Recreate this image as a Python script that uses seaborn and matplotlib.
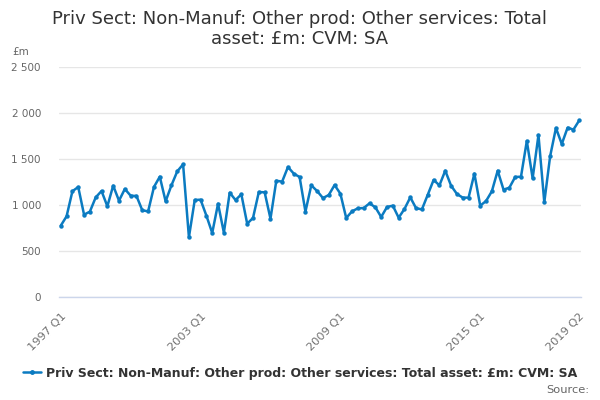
import matplotlib
matplotlib.use("Agg")
import matplotlib.pyplot as plt
import seaborn as sns
import pandas as pd
import numpy as np
from matplotlib.lines import Line2D

years = list(range(1997, 2020))
quarters = [f"{y} Q{q}" for y in years for q in range(1, 5)][:90]

values = [775, 877, 1149, 1196, 895, 928, 1083, 1152, 986, 1210,
          1047, 1174, 1101, 1098, 942, 931, 1196, 1308, 1040, 1214,
          1366, 1442, 650, 1054, 1058, 884, 696, 1014, 699, 1134,
          1054, 1116, 797, 859, 1141, 1138, 851, 1264, 1254, 1413,
          1341, 1304, 928, 1214, 1152, 1076, 1108, 1217, 1123, 859,
          931, 964, 967, 1018, 975, 870, 978, 993, 862, 957,
          1083, 964, 953, 1112, 1272, 1214, 1373, 1210, 1120, 1080,
          1080, 1341, 993, 1043, 1149, 1373, 1167, 1188, 1304, 1308,
          1696, 1290, 1761, 1029, 1529, 1837, 1663, 1841, 1819, 1920]

series_name = "Priv Sect: Non-Manuf: Other prod: Other services: Total asset: £m: CVM: SA"
title = "Priv Sect: Non-Manuf: Other prod: Other services: Total\nasset: £m: CVM: SA"
label_quarters = ["1997 Q1", "2003 Q1", "2009 Q1", "2015 Q1", "2019 Q2"]
y_ticks = [0, 500, 1000, 1500, 2000, 2500]
y_tick_labels = ["0", "500", "1 000", "1 500", "2 000", "2 500"]

df = pd.DataFrame({"pos": np.arange(len(values)), "quarter": quarters, "value": values})

sns.set_theme(style="white")
plt.rcParams["font.family"] = ["DejaVu Sans"]

fig = plt.figure(figsize=(6, 4), dpi=100)
ax = fig.add_axes([59 / 600, 103 / 400, 522 / 600, 230 / 400])

color = "#0b7bc1"
sns.lineplot(data=df, x="pos", y="value", ax=ax, color=color, linewidth=1.8,
             marker="o", markersize=3.2, markeredgewidth=0, legend=False)

ax.set_xlim(-0.3, len(values) - 1 + 0.3)
ax.set_ylim(0, 2500)
ax.set_yticks(y_ticks)
ax.set_yticklabels(y_tick_labels)
ax.yaxis.grid(True, color="#e6e6e6", linewidth=1)
ax.xaxis.grid(False)

tick_pos = list(range(0, len(values), 6)) + [len(values) - 1]
ax.set_xticks(tick_pos)
lab = []
for p in tick_pos:
    q = quarters[p]
    lab.append(q if q in label_quarters else "")
ax.set_xticklabels(lab, rotation=45, ha="right", rotation_mode="anchor")

for s in ["top", "right", "left"]:
    ax.spines[s].set_visible(False)
ax.spines["bottom"].set_color("#ccd6eb")
ax.spines["bottom"].set_linewidth(1)
ax.tick_params(axis="x", colors="#707070", length=8, width=1, labelsize=8.2,
               color="#ccd6eb", pad=2)
ax.tick_params(axis="y", colors="#666666", length=0, labelsize=7.5, pad=13)
for t in ax.get_yticklabels():
    t.set_ha("right")
ax.set_xlabel("")
ax.set_ylabel("")

fig.text(300 / 600, 1 - 29 / 400, title, ha="center", va="center",
         fontsize=13, color="#333333", linespacing=1.1)
fig.text(12 / 600, 1 - 52 / 400, "£m", ha="left", va="center",
         fontsize=7.5, color="#666666")

handle = Line2D([0], [0], color=color, linewidth=1.8, marker="o", markersize=2.5)
leg = fig.legend([handle], [series_name], loc="center", bbox_to_anchor=(0.5, 1 - 373 / 400),
                 frameon=False, handlelength=1.5, handletextpad=0.4,
                 prop={"size": 9, "weight": "bold"})
for t in leg.get_texts():
    t.set_color("#333333")
fig.text(589 / 600, 1 - 390 / 400, "Source:", ha="right", va="center",
         fontsize=8.2, color="#666666")

fig.savefig("out.png", dpi=100)
